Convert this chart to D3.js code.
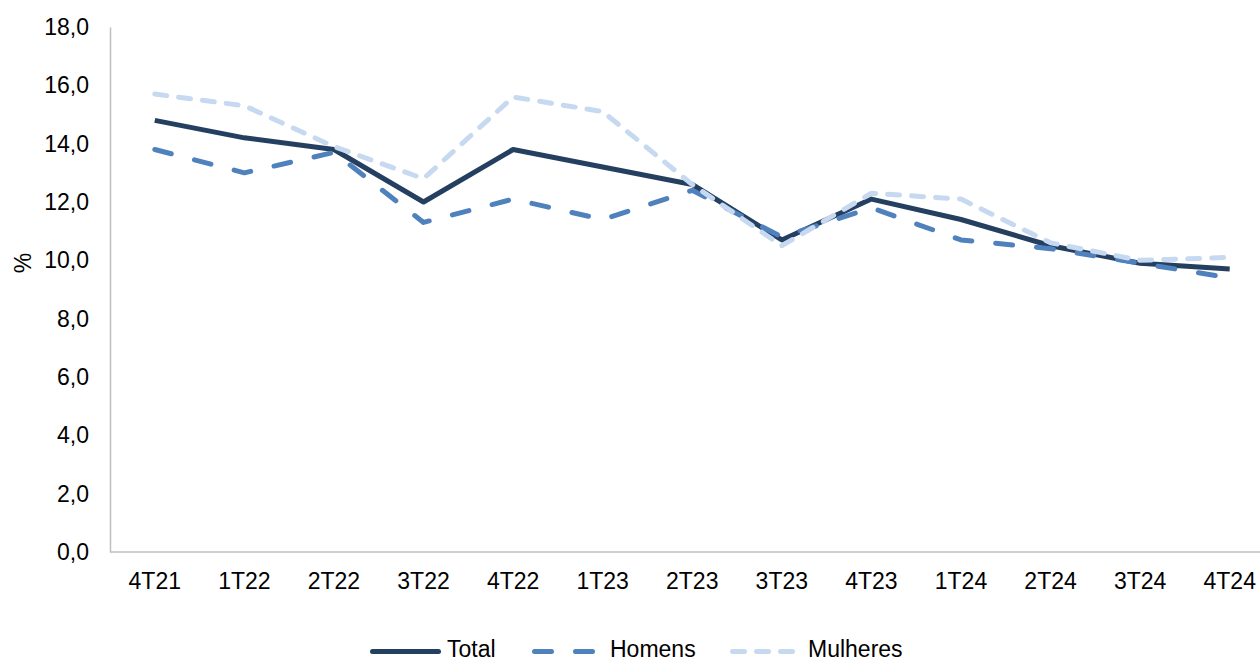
<!DOCTYPE html>
<html><head><meta charset="utf-8">
<script src="https://cdn.jsdelivr.net/npm/d3@7"></script>
<style>body{margin:0;background:#fff}svg{display:block;font-family:"Liberation Sans",Arial,sans-serif}</style>
</head><body><svg id="c" width="1260" height="662"></svg>
<script>
const categories = ["4T21","1T22","2T22","3T22","4T22","1T23","2T23","3T23","4T23","1T24","2T24","3T24","4T24"];
const total    = [14.8,14.2,13.8,12.0,13.8,13.2,12.6,10.7,12.1,11.4,10.5,9.9,9.7];
const homens   = [13.8,13.0,13.7,11.3,12.1,11.4,12.4,10.8,11.8,10.7,10.4,9.9,9.4];
const mulheres = [15.7,15.3,13.9,12.8,15.6,15.1,12.6,10.5,12.3,12.1,10.6,10.0,10.1];
const yTicks = [0,2,4,6,8,10,12,14,16,18];
const seriesNames = ["Total","Homens","Mulheres"];

const svg = d3.select("#c");
const FS = 23;
const x = d3.scaleBand().domain(categories).range([110, 1274.5]);
const y = d3.scaleLinear().domain([0,18]).range([552, 27]);
const fmt = v => d3.format(".1f")(v).replace(".", ",");

// axes
const yAxis = svg.append("g").attr("transform","translate(110,0)")
  .call(d3.axisLeft(y).tickValues(yTicks).tickFormat(fmt).tickSize(0).tickPadding(21));
yAxis.select(".domain").attr("stroke","#BFBFBF").attr("stroke-width",1.5);
yAxis.selectAll("text").attr("font-size",FS).attr("fill","#000").attr("font-family","Liberation Sans, Arial, sans-serif");

const xAxis = svg.append("g").attr("transform","translate(0,552)")
  .call(d3.axisBottom(x).tickSize(0).tickPadding(20.5));
xAxis.select(".domain").attr("d","M110,0H1260").attr("stroke","#BFBFBF").attr("stroke-width",1.5);
xAxis.selectAll("text").attr("font-size",FS).attr("fill","#000").attr("font-family","Liberation Sans, Arial, sans-serif");

svg.append("text").attr("transform","translate(31,263) rotate(-90)")
  .attr("text-anchor","middle").attr("font-size",FS).text("%");

const styles = [
  {color:"#243F60", dash:null},
  {color:"#4F81BD", dash:"17,24"},
  {color:"#C6D9F1", dash:"12,12"}
];
const data = [total, homens, mulheres];
const line = d3.line().x((d,i)=>x(categories[i])+x.bandwidth()/2).y(d=>y(d));

[0,1,2].forEach(k=>{
  svg.append("path").datum(data[k]).attr("d",line)
    .attr("fill","none").attr("stroke",styles[k].color).attr("stroke-width",5)
    .attr("stroke-linecap", k===0 ? "butt" : "round").attr("stroke-linejoin","round")
    .attr("stroke-dasharray",styles[k].dash);
});

// legend
const leg = [
  {x1:372.5,x2:438.5,tx:447},
  {x1:534.5,x2:594.5,tx:610},
  {x1:732.5,x2:792.5,tx:808}
];
leg.forEach((l,k)=>{
  const g = svg.append("g");
  g.append("line").attr("x1",l.x1).attr("x2",l.x2).attr("y1",651.5).attr("y2",651.5)
    .attr("stroke",styles[k].color).attr("stroke-width",5).attr("stroke-linecap","round")
    .attr("stroke-dasharray", styles[k].dash);
  g.append("text").attr("x",l.tx).attr("y",657).attr("font-size",FS).text(seriesNames[k]);
});
</script></body></html>
